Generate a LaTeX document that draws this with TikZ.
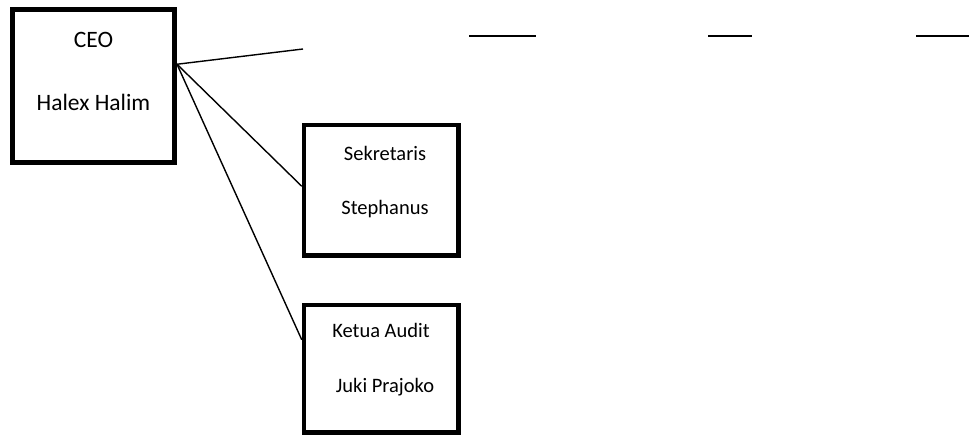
\documentclass[tikz,border=0pt]{standalone}
\usepackage{fontspec}
\setmainfont{Carlito}
\begin{document}
\begin{tikzpicture}[x=1pt,y=-1pt,
  bigbox/.style={draw=black,line width=5pt,rectangle,inner sep=0pt,minimum width=162pt,minimum height=153.5pt},
  smallbox/.style={draw=black,line width=4.5pt,rectangle,inner sep=0pt,minimum width=154.5pt},
  bigtxt/.style={inner sep=0pt,font=\fontsize{23.5}{28}\selectfont},
  smalltxt/.style={inner sep=0pt,font=\fontsize{20.5}{24}\selectfont},
  conn/.style={draw=black,line width=1.4pt},
  dashline/.style={draw=black,line width=2.2pt}]
\useasboundingbox (0,0) rectangle (969,435);
\node[bigbox] (ceo) at (93.5,86.25) {};
\node[smallbox,minimum height=130.5pt] (sek) at (381.25,190.25) {};
\node[smallbox,minimum height=127.5pt] (ket) at (381.25,368.75) {};
\node[bigtxt] (ceot) at (93.5,40) {CEO};
\node[bigtxt] (ceon) at (93.5,102) {Halex Halim};
\node[smalltxt] (sekt) at (385,153) {Sekretaris};
\node[smalltxt] (sekn) at (385,209) {Stephanus};
\node[smalltxt] (kett) at (381,330) {Ketua Audit};
\node[smalltxt] (ketn) at (385,387) {Juki Prajoko};
\coordinate (free) at (303,49);
\coordinate (d1a) at (469,36); \coordinate (d1b) at (536,36);
\coordinate (d2a) at (708,36); \coordinate (d2b) at (752,36);
\coordinate (d3a) at (916,36); \coordinate (d3b) at (969,36);
\draw[conn] ([yshift=22pt]ceo.east) -- (free);
\draw[conn] ([yshift=22pt]ceo.east) -- ([yshift=4pt]sek.west);
\draw[conn] ([yshift=22pt]ceo.east) -- ([yshift=29pt]ket.west);
\draw[dashline] (d1a) -- (d1b);
\draw[dashline] (d2a) -- (d2b);
\draw[dashline] (d3a) -- (d3b);
\end{tikzpicture}
\end{document}
